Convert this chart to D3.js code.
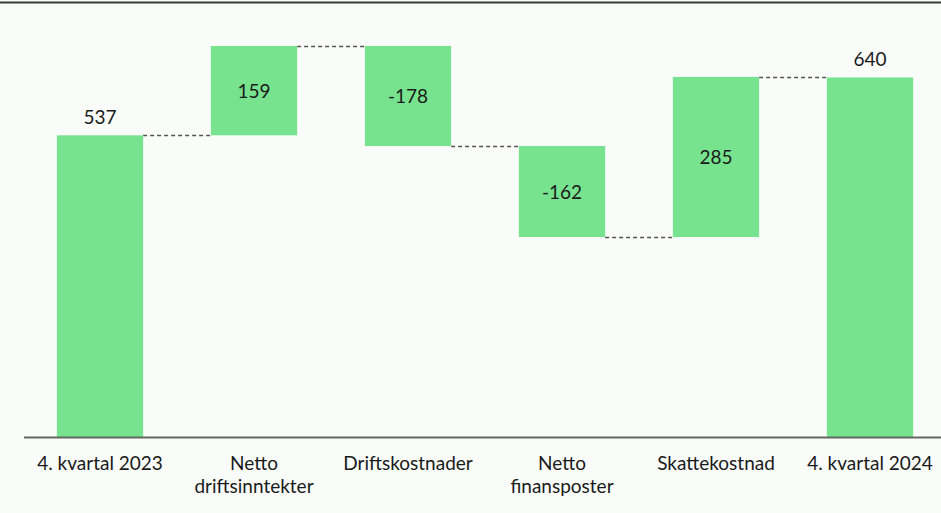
<!DOCTYPE html>
<html>
<head>
<meta charset="utf-8">
<script src="https://cdn.jsdelivr.net/npm/d3@7"></script>
<style>
  body { margin: 0; background: #f9fcf9; }
  svg { display: block; font-family: Lato, "Open Sans", sans-serif; }
</style>
</head>
<body>
<div id="chart"></div>
<script>
// Waterfall data
const categories = ["4. kvartal 2023", "Netto driftsinntekter", "Driftskostnader", "Netto finansposter", "Skattekostnad", "4. kvartal 2024"];
const labelLines = [["4. kvartal 2023"], ["Netto", "driftsinntekter"], ["Driftskostnader"], ["Netto", "finansposter"], ["Skattekostnad"], ["4. kvartal 2024"]];
const values = [537, 159, -178, -162, 285, 640];
const isTotal = [true, false, false, false, false, true];

const width = 941, height = 513;
const baseY = 437;

const svg = d3.select("#chart").append("svg")
    .attr("width", width)
    .attr("height", height);

svg.append("rect").attr("width", width).attr("height", height).attr("fill", "#f9fcf9");

// build running totals
let running = 0;
const bars = categories.map((c, i) => {
    let start, end;
    if (isTotal[i]) { start = 0; end = values[i]; running = values[i]; }
    else { start = running; end = running + values[i]; running = end; }
    return { cat: c, lines: labelLines[i], value: values[i], start, end, total: isTotal[i] };
});

const x = d3.scaleBand()
    .domain(categories)
    .range([23, 947])
    .paddingInner(0.44)
    .paddingOuter(0.22);

const y = d3.scaleLinear()
    .domain([0, 696])
    .range([baseY, 46]);

// top border
svg.append("line")
    .attr("x1", 0).attr("x2", width)
    .attr("y1", 2.5).attr("y2", 2.5)
    .attr("stroke", "#3a3a3a")
    .attr("stroke-width", 2);

// connectors
svg.selectAll(".conn")
    .data(bars.slice(0, -1))
    .enter().append("line")
    .attr("x1", d => x(d.cat) + x.bandwidth())
    .attr("x2", (d, i) => x(categories[i + 1]))
    .attr("y1", d => Math.round(y(d.end)) + 0.5)
    .attr("y2", d => Math.round(y(d.end)) + 0.5)
    .attr("stroke", "#555")
    .attr("stroke-width", 1.5)
    .attr("stroke-dasharray", "4,3");

// bars
svg.selectAll(".bar")
    .data(bars)
    .enter().append("rect")
    .attr("x", d => x(d.cat))
    .attr("width", x.bandwidth())
    .attr("y", d => y(Math.max(d.start, d.end)))
    .attr("height", d => Math.abs(y(d.start) - y(d.end)))
    .attr("fill", "#77e38f");

// value labels
svg.selectAll(".val")
    .data(bars)
    .enter().append("text")
    .attr("x", d => x(d.cat) + x.bandwidth() / 2)
    .attr("y", d => d.total ? y(d.end) - 11 : (y(d.start) + y(d.end)) / 2 + 7)
    .attr("text-anchor", "middle")
    .attr("font-size", 19)
    .attr("fill", "#1a1a1a")
    .text(d => d.value);

// axis line
svg.append("line")
    .attr("x1", 24).attr("x2", width)
    .attr("y1", baseY + 0.5).attr("y2", baseY + 0.5)
    .attr("stroke", "#666")
    .attr("stroke-width", 2);

// category labels
const cats = svg.selectAll(".cat")
    .data(bars)
    .enter().append("text")
    .attr("x", d => x(d.cat) + x.bandwidth() / 2)
    .attr("y", 470)
    .attr("text-anchor", "middle")
    .attr("font-size", 19)
    .attr("fill", "#1a1a1a");

cats.selectAll("tspan")
    .data(d => d.lines.map(l => ({ l, cx: x(d.cat) + x.bandwidth() / 2 })))
    .enter().append("tspan")
    .attr("x", d => d.cx)
    .attr("dy", (d, i) => i === 0 ? 0 : 23)
    .text(d => d.l);
</script>
</body>
</html>
